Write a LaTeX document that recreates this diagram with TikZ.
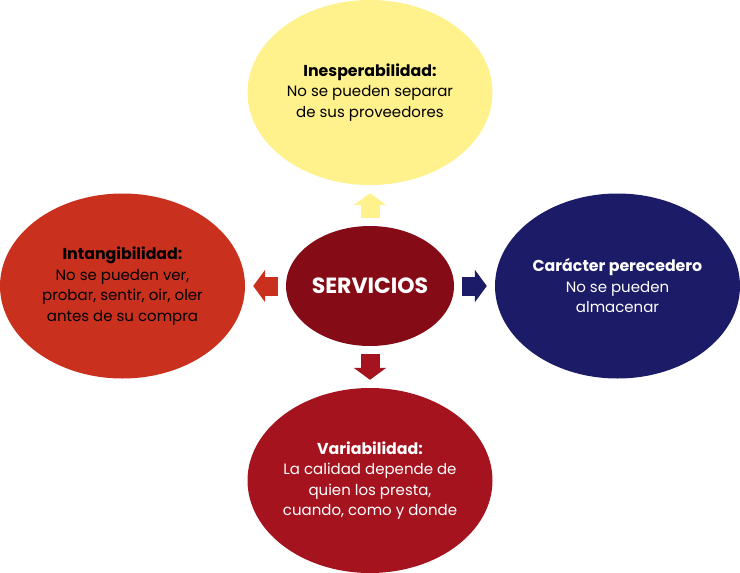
\documentclass[tikz,border=0pt]{standalone}
\usepackage{fontspec}
\setmainfont{Poppins}
\usepackage{xcolor}
\usetikzlibrary{arrows.meta, shapes.geometric, positioning}

\definecolor{amarillo}{HTML}{FFF18C}
\definecolor{rojizo}{HTML}{C9311E}
\definecolor{granate}{HTML}{850C16}
\definecolor{marino}{HTML}{1B1B67}
\definecolor{carmesi}{HTML}{A5131F}
\newcommand{\titulo}[1]{{\fontsize{15.8}{20.5}\selectfont\bfseries #1}}

\begin{document}
\begin{tikzpicture}[x=1pt, y=-1pt,
	bubble/.style={shape=ellipse, inner sep=0pt, minimum width=245pt, minimum height=185pt},
	texto/.style={align=center, font=\fontsize{15}{20.5}\selectfont},
	flecha/.style={line width=19pt, -{Triangle[length=12pt, width=32pt]}, shorten <=8pt, shorten >=8pt}]
	\useasboundingbox (0,0) rectangle (740,573);
	% the four bubbles
	\node[bubble, fill=amarillo] (insep) at (370,92.5) {};
	\node[bubble, fill=rojizo] (intang) at (122.5,286) {};
	\node[bubble, fill=marino] (perec) at (617.5,286) {};
	\node[bubble, fill=carmesi] (varia) at (370,480.5) {};
	\node[texto] (insep-t) at (insep) {\titulo{Inesperabilidad:}\\No se pueden separar\\de sus proveedores};
	\node[texto] (intang-t) at (intang) {\titulo{Intangibilidad:}\\No se pueden ver,\\probar, sentir, oir, oler\\antes de su compra};
	\node[texto, text=white] (perec-t) at (perec) {\titulo{Carácter perecedero}\\No se pueden\\almacenar};
	\node[texto, text=white] (varia-t) at (varia) {\titulo{Variabilidad:}\\La calidad depende de\\quien los presta,\\cuando, como y donde};
	% center
	\node[shape=ellipse, inner sep=0pt, fill=granate, minimum width=168pt, minimum height=120pt] (serv) at (370,286) {};
	\node[text=white, font=\fontsize{22}{24}\selectfont\bfseries] (serv-t) at (serv) {SERVICIOS};
	\foreach \dest/\col in {insep/amarillo, intang/rojizo, perec/marino, varia/carmesi}{
		\draw[flecha, draw=\col] (serv) -- (\dest);
	};
\end{tikzpicture}
\end{document}
